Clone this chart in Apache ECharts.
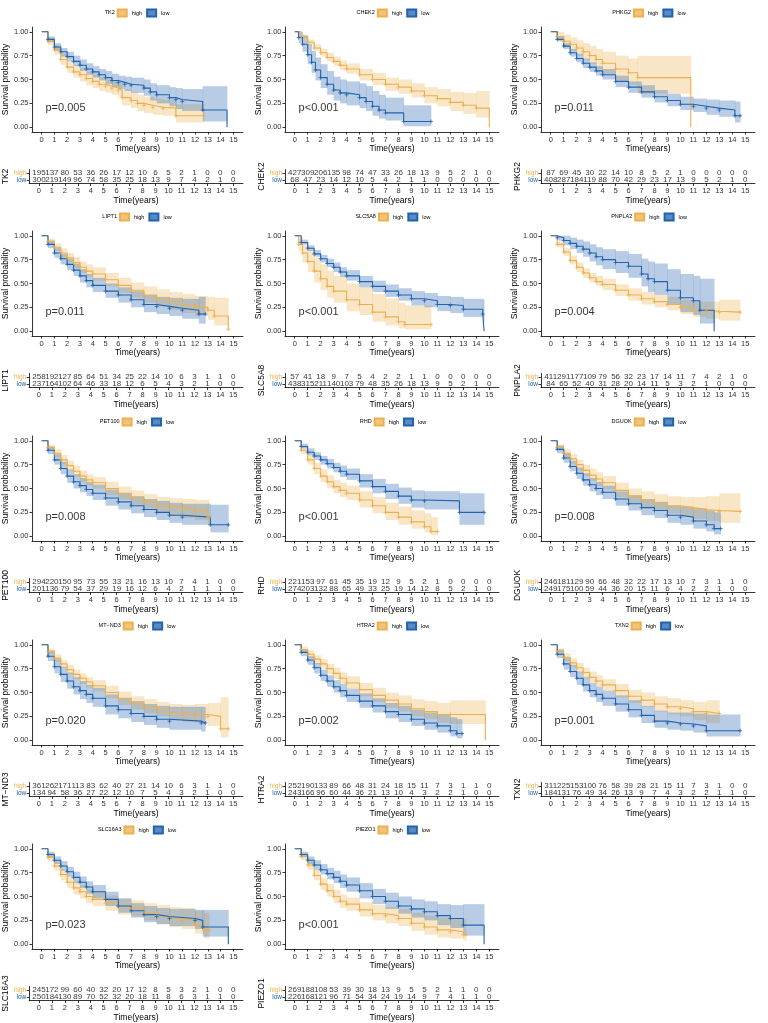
<!DOCTYPE html>
<html><head><meta charset="utf-8">
<script src="https://cdn.jsdelivr.net/npm/echarts@6/dist/echarts.min.js"></script>
<style>html,body{margin:0;padding:0;background:#fff}#c{width:768px;height:1023px}</style>
</head><body><div id="c"></div><script>
const genes = ['TK2','CHEK2','PHKG2','LIPT1','SLC5A8','PNPLA2','PET100','RHD','DGUOK','MT\u2212ND3','HTRA2','TXN2','SLC16A3','PIEZO1'];
const pValues = ['p=0.005','p<0.001','p=0.011','p=0.011','p<0.001','p=0.004','p=0.008','p<0.001','p=0.008','p=0.020','p=0.002','p=0.001','p=0.023','p<0.001'];
const timeTicks = [0,1,2,3,4,5,6,7,8,9,10,11,12,13,14,15];
const survTicks = [0,0.25,0.5,0.75,1];
const groupLabels = ['high','low'];

const riskHigh = [
 [195,137,80,53,36,26,17,12,10,6,5,2,1,0,0,0],
 [427,309,206,135,98,74,47,33,26,18,13,9,5,2,1,0],
 [87,69,45,30,22,14,10,8,5,2,1,0,0,0,0,0],
 [258,192,127,85,64,51,34,25,22,14,10,6,3,1,1,0],
 [57,41,18,9,7,5,4,2,2,1,1,0,0,0,0,0],
 [411,291,177,109,79,56,32,23,17,14,11,7,4,2,1,0],
 [294,220,150,95,73,55,33,21,16,13,10,7,4,1,0,0],
 [221,153,97,61,45,35,19,12,9,5,2,1,0,0,0,0],
 [246,181,129,90,66,48,32,22,17,13,10,7,3,1,1,0],
 [361,262,171,113,83,62,40,27,21,14,10,6,3,1,1,0],
 [252,190,133,89,66,48,31,24,18,15,11,7,3,1,1,0],
 [311,225,153,100,76,58,39,28,21,15,11,7,3,1,0,0],
 [245,172,99,60,40,32,20,17,12,8,5,3,2,1,0,0],
 [269,188,108,53,39,30,18,13,9,5,5,2,1,1,0,0]
];
const riskLow = [
 [300,219,149,96,74,58,35,25,18,13,9,7,4,2,1,0],
 [68,47,23,14,12,10,5,4,2,1,1,0,0,0,0,0],
 [408,287,184,119,88,70,42,29,23,17,13,9,5,2,1,0],
 [237,164,102,64,46,33,18,12,6,5,4,3,2,1,0,0],
 [438,315,211,140,103,79,48,35,26,18,13,9,5,2,1,0],
 [84,65,52,40,31,28,20,14,11,5,3,2,1,0,0,0],
 [201,136,79,54,37,29,19,16,12,6,4,2,1,1,1,0],
 [274,203,132,88,65,49,33,25,19,14,12,8,5,2,1,0],
 [249,175,100,59,44,36,20,15,11,6,4,2,2,1,0,0],
 [134,94,58,36,27,22,12,10,7,5,4,3,2,1,0,0],
 [243,166,96,60,44,36,21,13,10,4,3,2,2,1,0,0],
 [184,131,76,49,34,26,13,9,7,4,3,2,2,1,1,0],
 [250,184,130,89,70,52,32,20,18,11,8,6,3,1,1,0],
 [226,168,121,96,71,54,34,24,19,14,9,7,4,1,1,0]
];

// [time, survival, lower CI, upper CI]
const survHigh = [
 [[0,1,1,1],[0.5,0.90,0.86,0.94],[1,0.81,0.76,0.86],[1.5,0.71,0.65,0.77],[2,0.63,0.57,0.69],[2.5,0.58,0.52,0.65],[3,0.55,0.48,0.62],[3.5,0.51,0.44,0.58],[4,0.48,0.41,0.55],[4.5,0.45,0.38,0.52],[5,0.43,0.36,0.50],[5.5,0.41,0.34,0.49],[6,0.39,0.31,0.47],[6.3,0.31,0.23,0.40],[7,0.28,0.20,0.37],[7.5,0.25,0.17,0.34],[8,0.23,0.15,0.32],[8.7,0.21,0.13,0.30],[9.5,0.20,0.12,0.29],[10.5,0.12,0.05,0.24],[12.7,0.12,0.05,0.24]],
 [[0,1,1,1],[0.5,0.95,0.93,0.97],[1,0.89,0.86,0.92],[1.5,0.83,0.80,0.87],[2,0.78,0.74,0.82],[2.5,0.73,0.69,0.78],[3,0.69,0.64,0.74],[3.5,0.65,0.60,0.70],[4,0.61,0.56,0.67],[5,0.55,0.49,0.61],[6,0.50,0.44,0.57],[7,0.45,0.38,0.52],[8,0.42,0.35,0.50],[9,0.38,0.31,0.46],[10,0.33,0.25,0.42],[11,0.30,0.22,0.40],[12,0.26,0.17,0.37],[13,0.23,0.14,0.36],[14,0.20,0.10,0.38],[15,0,0,0]],
 [[0,1,1,1],[0.5,0.95,0.91,1],[1,0.90,0.84,0.97],[1.5,0.87,0.80,0.94],[2,0.83,0.75,0.91],[2.5,0.79,0.70,0.88],[3,0.75,0.66,0.85],[3.5,0.71,0.61,0.82],[4,0.67,0.56,0.79],[5,0.61,0.49,0.75],[6,0.57,0.44,0.72],[6.7,0.52,0.35,0.75],[10.8,0,0,0]],
 [[0,1,1,1],[0.5,0.94,0.91,0.97],[1,0.88,0.84,0.92],[1.5,0.82,0.77,0.87],[2,0.77,0.72,0.82],[2.5,0.72,0.66,0.78],[3,0.67,0.61,0.73],[3.5,0.63,0.57,0.70],[4,0.60,0.53,0.67],[5,0.54,0.47,0.61],[6,0.48,0.40,0.56],[7,0.43,0.35,0.51],[8,0.38,0.30,0.47],[9,0.34,0.26,0.44],[10,0.31,0.22,0.41],[11,0.28,0.19,0.39],[12,0.25,0.16,0.37],[13,0.22,0.12,0.36],[13.5,0.16,0.06,0.35],[14.6,0.02,0.02,0.02]],
 [[0,1,1,1],[0.3,0.91,0.84,0.99],[0.6,0.82,0.72,0.93],[1,0.73,0.62,0.85],[1.5,0.63,0.51,0.77],[2,0.55,0.43,0.70],[2.5,0.47,0.35,0.63],[3,0.42,0.30,0.58],[4,0.33,0.21,0.50],[5,0.28,0.17,0.46],[6,0.20,0.10,0.39],[7,0.15,0.06,0.34],[8,0.10,0.03,0.30],[8.5,0.07,0.02,0.27],[10.5,0.07,0.02,0.27]],
 [[0,1,1,1],[0.5,0.91,0.88,0.94],[1,0.83,0.79,0.87],[1.5,0.74,0.70,0.79],[2,0.67,0.62,0.72],[2.5,0.61,0.56,0.66],[3,0.56,0.51,0.61],[3.5,0.52,0.47,0.58],[4,0.49,0.43,0.55],[5,0.43,0.37,0.49],[6,0.38,0.32,0.45],[7,0.34,0.28,0.41],[8,0.31,0.25,0.38],[9,0.28,0.22,0.36],[10,0.25,0.18,0.33],[11,0.22,0.15,0.31],[12,0.21,0.13,0.31],[13,0.20,0.11,0.33],[14.6,0.20,0.11,0.33]],
 [[0,1,1,1],[0.5,0.93,0.90,0.96],[1,0.87,0.83,0.91],[1.5,0.80,0.75,0.85],[2,0.74,0.69,0.79],[2.5,0.68,0.62,0.74],[3,0.63,0.57,0.69],[3.5,0.59,0.53,0.65],[4,0.56,0.50,0.62],[5,0.50,0.43,0.57],[6,0.45,0.38,0.52],[7,0.40,0.33,0.48],[8,0.36,0.29,0.44],[9,0.32,0.24,0.41],[10,0.30,0.22,0.40],[11,0.28,0.19,0.39],[12,0.26,0.17,0.38],[13,0.20,0.10,0.38],[13.1,0.20,0.10,0.38]],
 [[0,1,1,1],[0.5,0.90,0.86,0.94],[1,0.80,0.75,0.86],[1.5,0.71,0.65,0.77],[2,0.63,0.57,0.70],[2.5,0.57,0.50,0.64],[3,0.52,0.45,0.59],[3.5,0.48,0.41,0.56],[4,0.45,0.38,0.53],[5,0.38,0.30,0.47],[6,0.32,0.24,0.41],[7,0.25,0.17,0.35],[8,0.20,0.12,0.31],[9,0.15,0.08,0.27],[10,0.10,0.04,0.24],[10.5,0.05,0.01,0.20],[11,0.05,0.01,0.20]],
 [[0,1,1,1],[0.5,0.93,0.90,0.96],[1,0.87,0.83,0.91],[1.5,0.81,0.76,0.86],[2,0.75,0.69,0.80],[2.5,0.69,0.63,0.75],[3,0.64,0.58,0.71],[3.5,0.60,0.53,0.67],[4,0.56,0.49,0.63],[5,0.48,0.41,0.56],[6,0.42,0.34,0.50],[7,0.38,0.30,0.47],[8,0.35,0.27,0.44],[9,0.32,0.24,0.42],[10,0.30,0.21,0.41],[11,0.28,0.18,0.41],[12,0.27,0.16,0.42],[13,0.26,0.14,0.45],[14.6,0.26,0.14,0.45]],
 [[0,1,1,1],[0.5,0.93,0.90,0.96],[1,0.86,0.82,0.90],[1.5,0.80,0.76,0.84],[2,0.74,0.69,0.79],[2.5,0.69,0.64,0.74],[3,0.65,0.59,0.70],[3.5,0.61,0.55,0.66],[4,0.57,0.51,0.63],[5,0.50,0.44,0.57],[6,0.44,0.37,0.51],[7,0.39,0.32,0.46],[8,0.35,0.28,0.43],[9,0.32,0.25,0.40],[10,0.29,0.21,0.38],[11,0.27,0.19,0.37],[12,0.27,0.18,0.38],[13,0.25,0.15,0.39],[14,0.12,0.03,0.45],[14.6,0.12,0.03,0.45]],
 [[0,1,1,1],[0.5,0.95,0.92,0.98],[1,0.90,0.86,0.94],[1.5,0.85,0.80,0.89],[2,0.80,0.75,0.85],[2.5,0.75,0.69,0.80],[3,0.70,0.64,0.76],[3.5,0.65,0.59,0.71],[4,0.60,0.54,0.67],[5,0.53,0.46,0.60],[6,0.47,0.40,0.55],[7,0.42,0.34,0.50],[8,0.38,0.30,0.47],[9,0.33,0.25,0.43],[10,0.30,0.22,0.41],[11,0.27,0.18,0.39],[12,0.27,0.17,0.42],[14.7,0,0,0]],
 [[0,1,1,1],[0.5,0.93,0.90,0.96],[1,0.87,0.83,0.91],[1.5,0.81,0.77,0.86],[2,0.76,0.71,0.81],[2.5,0.71,0.65,0.76],[3,0.66,0.60,0.72],[3.5,0.62,0.56,0.68],[4,0.58,0.52,0.64],[5,0.52,0.45,0.59],[6,0.46,0.39,0.53],[7,0.42,0.35,0.50],[8,0.38,0.30,0.46],[9,0.35,0.27,0.44],[10,0.33,0.25,0.42],[11,0.30,0.21,0.40],[12,0.28,0.18,0.42],[13,0.28,0.18,0.42]],
 [[0,1,1,1],[0.5,0.91,0.87,0.95],[1,0.82,0.77,0.87],[1.5,0.73,0.67,0.79],[2,0.65,0.59,0.72],[2.5,0.59,0.52,0.66],[3,0.55,0.48,0.62],[3.5,0.50,0.43,0.58],[4,0.47,0.40,0.55],[5,0.43,0.35,0.51],[6,0.39,0.31,0.48],[7,0.37,0.29,0.46],[8,0.33,0.25,0.43],[9,0.30,0.21,0.41],[10,0.27,0.18,0.39],[11,0.25,0.16,0.38],[12,0.20,0.11,0.35],[12.7,0.15,0.06,0.33],[13.1,0.15,0.06,0.33]],
 [[0,1,1,1],[0.5,0.92,0.88,0.95],[1,0.83,0.78,0.87],[1.5,0.72,0.67,0.78],[2,0.63,0.57,0.69],[2.5,0.56,0.50,0.63],[3,0.50,0.43,0.57],[3.5,0.45,0.38,0.52],[4,0.42,0.35,0.49],[5,0.36,0.29,0.44],[6,0.32,0.25,0.41],[7,0.30,0.22,0.39],[8,0.27,0.19,0.37],[9,0.22,0.14,0.33],[10,0.18,0.10,0.30],[11,0.15,0.07,0.28],[12,0.13,0.06,0.27],[13,0.10,0.04,0.26],[13.2,0.10,0.04,0.26]]
];
const survLow = [
 [[0,1,1,1],[0.5,0.92,0.89,0.95],[1,0.84,0.80,0.88],[1.5,0.79,0.74,0.83],[2,0.74,0.69,0.79],[2.5,0.69,0.64,0.75],[3,0.65,0.59,0.71],[3.5,0.61,0.55,0.67],[4,0.58,0.52,0.64],[4.5,0.55,0.49,0.61],[5,0.52,0.45,0.59],[5.5,0.49,0.42,0.56],[6,0.47,0.40,0.54],[6.5,0.45,0.38,0.53],[7,0.44,0.36,0.52],[8,0.41,0.33,0.50],[8.5,0.37,0.28,0.46],[9,0.34,0.25,0.44],[10,0.31,0.22,0.42],[10.5,0.29,0.19,0.41],[11,0.27,0.17,0.40],[12.6,0.18,0.06,0.43],[14.5,0,0,0]],
 [[0,1,1,1],[0.3,0.94,0.88,1],[0.6,0.87,0.79,0.96],[1,0.76,0.66,0.87],[1.3,0.68,0.57,0.80],[1.6,0.60,0.49,0.73],[2,0.52,0.41,0.66],[2.5,0.45,0.34,0.59],[3,0.39,0.28,0.53],[3.5,0.36,0.25,0.50],[4,0.34,0.23,0.48],[5,0.31,0.20,0.46],[5.5,0.27,0.17,0.43],[6,0.22,0.12,0.38],[6.5,0.18,0.09,0.34],[7,0.15,0.07,0.31],[8.4,0.06,0.01,0.23],[10.5,0.06,0.01,0.23]],
 [[0,1,1,1],[0.5,0.92,0.90,0.95],[1,0.85,0.82,0.88],[1.5,0.78,0.74,0.82],[2,0.72,0.68,0.77],[2.5,0.67,0.62,0.72],[3,0.63,0.58,0.68],[3.5,0.59,0.54,0.64],[4,0.55,0.50,0.61],[5,0.48,0.42,0.54],[6,0.42,0.36,0.48],[7,0.37,0.31,0.44],[8,0.32,0.26,0.39],[9,0.28,0.22,0.35],[10,0.24,0.18,0.32],[11,0.22,0.16,0.30],[12,0.20,0.13,0.29],[13,0.18,0.11,0.28],[14.2,0.12,0.05,0.27],[14.6,0.12,0.05,0.27]],
 [[0,1,1,1],[0.5,0.91,0.87,0.95],[1,0.82,0.77,0.87],[1.5,0.76,0.70,0.81],[2,0.70,0.64,0.76],[2.5,0.64,0.58,0.71],[3,0.58,0.51,0.65],[3.5,0.53,0.46,0.60],[4,0.48,0.41,0.56],[5,0.42,0.35,0.50],[6,0.38,0.30,0.46],[7,0.33,0.25,0.42],[8,0.28,0.20,0.38],[9,0.26,0.18,0.36],[10,0.24,0.16,0.35],[11,0.22,0.13,0.34],[12.3,0.18,0.08,0.36],[12.8,0.18,0.08,0.36]],
 [[0,1,1,1],[0.5,0.93,0.91,0.96],[1,0.87,0.84,0.90],[1.5,0.81,0.78,0.85],[2,0.76,0.72,0.80],[2.5,0.71,0.67,0.76],[3,0.67,0.62,0.72],[3.5,0.62,0.57,0.67],[4,0.58,0.53,0.64],[5,0.52,0.46,0.58],[6,0.47,0.41,0.53],[7,0.42,0.36,0.49],[8,0.38,0.32,0.45],[9,0.34,0.27,0.42],[10,0.32,0.25,0.40],[11,0.28,0.21,0.37],[12,0.27,0.19,0.36],[13,0.23,0.15,0.34],[14.5,0.18,0.09,0.33],[14.6,0,0,0]],
 [[0,1,1,1],[0.5,0.98,0.95,1],[1,0.95,0.90,1],[1.5,0.92,0.86,0.98],[2,0.89,0.82,0.96],[2.5,0.86,0.78,0.94],[3,0.82,0.73,0.91],[3.5,0.78,0.69,0.88],[4,0.75,0.65,0.86],[5,0.72,0.61,0.84],[6,0.68,0.56,0.81],[7,0.60,0.47,0.76],[7.5,0.55,0.41,0.73],[8,0.52,0.38,0.71],[9,0.43,0.28,0.65],[10,0.35,0.20,0.60],[11,0.32,0.17,0.58],[11.5,0.22,0.08,0.55],[12.6,0,0,0]],
 [[0,1,1,1],[0.5,0.90,0.86,0.94],[1,0.80,0.75,0.86],[1.5,0.71,0.65,0.78],[2,0.63,0.56,0.70],[2.5,0.57,0.50,0.65],[3,0.53,0.46,0.61],[3.5,0.49,0.42,0.57],[4,0.45,0.38,0.54],[5,0.40,0.32,0.49],[6,0.36,0.28,0.45],[7,0.32,0.24,0.42],[8,0.28,0.20,0.39],[9,0.25,0.17,0.37],[10,0.22,0.14,0.35],[11,0.20,0.12,0.34],[13.2,0.12,0.04,0.33],[14.6,0.12,0.04,0.33]],
 [[0,1,1,1],[0.5,0.94,0.92,0.97],[1,0.88,0.85,0.92],[1.5,0.84,0.80,0.88],[2,0.80,0.75,0.84],[2.5,0.76,0.71,0.81],[3,0.72,0.67,0.77],[3.5,0.68,0.62,0.74],[4,0.65,0.59,0.71],[5,0.58,0.51,0.65],[6,0.52,0.45,0.60],[7,0.47,0.39,0.55],[8,0.42,0.34,0.51],[9,0.38,0.30,0.48],[10,0.37,0.28,0.47],[12.7,0.25,0.12,0.45],[14.6,0.25,0.12,0.45]],
 [[0,1,1,1],[0.5,0.91,0.87,0.95],[1,0.82,0.77,0.87],[1.5,0.73,0.68,0.79],[2,0.66,0.60,0.72],[2.5,0.59,0.53,0.66],[3,0.54,0.47,0.61],[3.5,0.50,0.43,0.57],[4,0.46,0.39,0.53],[5,0.39,0.32,0.47],[6,0.34,0.27,0.43],[7,0.30,0.22,0.39],[8,0.27,0.19,0.36],[9,0.22,0.14,0.32],[10,0.20,0.12,0.31],[11,0.16,0.08,0.29],[12,0.12,0.05,0.27],[12.6,0.08,0.02,0.25],[13.1,0.08,0.02,0.25]],
 [[0,1,1,1],[0.5,0.88,0.83,0.94],[1,0.77,0.70,0.85],[1.5,0.69,0.61,0.77],[2,0.62,0.54,0.71],[2.5,0.56,0.48,0.66],[3,0.52,0.43,0.62],[3.5,0.48,0.39,0.58],[4,0.44,0.35,0.55],[5,0.36,0.27,0.48],[6,0.32,0.23,0.44],[7,0.28,0.19,0.41],[8,0.25,0.16,0.38],[9,0.22,0.13,0.36],[10,0.20,0.11,0.35],[12.5,0.18,0.09,0.35],[12.8,0.18,0.09,0.35]],
 [[0,1,1,1],[0.5,0.92,0.88,0.95],[1,0.84,0.79,0.88],[1.5,0.76,0.70,0.81],[2,0.68,0.62,0.74],[2.5,0.62,0.56,0.68],[3,0.56,0.50,0.63],[3.5,0.52,0.45,0.59],[4,0.47,0.40,0.54],[5,0.41,0.34,0.49],[6,0.36,0.29,0.44],[7,0.30,0.23,0.39],[8,0.27,0.19,0.36],[9,0.22,0.15,0.32],[10,0.18,0.11,0.29],[11,0.15,0.08,0.27],[12,0.10,0.04,0.24],[12.5,0.07,0.02,0.22],[12.9,0.07,0.02,0.22]],
 [[0,1,1,1],[0.5,0.90,0.86,0.95],[1,0.80,0.74,0.86],[1.5,0.72,0.66,0.79],[2,0.65,0.58,0.72],[2.5,0.58,0.51,0.66],[3,0.52,0.45,0.60],[3.5,0.48,0.40,0.56],[4,0.44,0.36,0.52],[5,0.38,0.30,0.47],[6,0.32,0.24,0.42],[7,0.26,0.18,0.36],[8,0.20,0.13,0.31],[9,0.18,0.11,0.29],[10,0.17,0.10,0.29],[11,0.15,0.08,0.28],[12,0.10,0.04,0.27],[14.6,0.10,0.04,0.27]],
 [[0,1,1,1],[0.5,0.94,0.91,0.97],[1,0.88,0.84,0.92],[1.5,0.82,0.77,0.87],[2,0.76,0.71,0.81],[2.5,0.70,0.64,0.76],[3,0.65,0.59,0.71],[3.5,0.60,0.53,0.66],[4,0.55,0.48,0.62],[5,0.47,0.40,0.55],[6,0.40,0.33,0.48],[7,0.35,0.28,0.43],[8,0.31,0.23,0.40],[9,0.29,0.21,0.38],[10,0.27,0.19,0.37],[12,0.25,0.16,0.36],[12.6,0.18,0.08,0.36],[14.6,0,0,0]],
 [[0,1,1,1],[0.5,0.94,0.91,0.97],[1,0.88,0.84,0.92],[1.5,0.83,0.78,0.88],[2,0.78,0.73,0.84],[2.5,0.74,0.68,0.80],[3,0.70,0.64,0.77],[3.5,0.66,0.59,0.73],[4,0.62,0.55,0.70],[5,0.56,0.48,0.64],[6,0.50,0.42,0.58],[7,0.45,0.37,0.54],[8,0.40,0.32,0.50],[9,0.37,0.28,0.47],[10,0.34,0.25,0.45],[11,0.30,0.20,0.42],[12,0.27,0.17,0.41],[13,0.20,0.09,0.42],[14.6,0,0,0]]
];

const HC = '#EDB04E', LC = '#2163AE';
const HB = 'rgba(237,176,78,0.32)', LB = 'rgba(33,99,174,0.32)';
const FONT = '"Liberation Sans", Arial, sans-serif';
const chart = echarts.init(document.getElementById('c'));
const ctx = document.createElement('canvas').getContext('2d');
function tw(t, size){ ctx.font = size + 'px "Liberation Sans", Arial'; return ctx.measureText(t).width; }

const grids=[], xAxes=[], yAxes=[], series=[], legends=[], graphics=[];
const plus = 'path://M0,5L10,5M5,0L5,10';

function axisBase(gi, min, max, vals){
  return {gridIndex:gi, type:'value', min:min, max:max,
    axisLine:{show:true,onZero:false,lineStyle:{color:'#000',width:0.8}},
    axisTick:{show:true,customValues:vals,length:2.5,lineStyle:{color:'#000',width:0.8}},
    axisLabel:{show:true,customValues:vals,fontSize:7.5,color:'#333',margin:3.5,fontFamily:FONT},
    splitLine:{show:false}, nameTextStyle:{fontSize:8.5,color:'#000',fontFamily:FONT}};
}

// confidence band: one step rectangle per interval [t_i, t_{i+1}] between lower and upper CI
function bandRender(params, api){
  const t0 = api.value(0), t1 = api.value(1), lo = api.value(2), hi = api.value(3);
  const a = api.coord([t0, hi]), b = api.coord([t1, lo]);
  return {type:'rect', shape:{x:a[0], y:a[1], width:Math.max(0,b[0]-a[0]+0.4), height:Math.max(0,b[1]-a[1])},
    style:{fill:api.visual('color')}};
}

genes.forEach((g,i)=>{
  const col=i%3, row=Math.floor(i/3);
  const L=col*256, T=Math.round(row*204.3);
  const gi = grids.length;
  grids.push({left:L+29, top:T+27, width:214, height:105});
  xAxes.push(Object.assign(axisBase(gi,-0.75,15.75,timeTicks),{name:'Time(years)',nameLocation:'middle',nameGap:10}));
  const ya = axisBase(gi,-0.05,1.05,survTicks);
  ya.axisLabel.formatter = v=>v.toFixed(2);
  Object.assign(ya,{name:'Survival probability',nameLocation:'middle',nameGap:18});
  yAxes.push(ya);

  [[survHigh[i],HB],[survLow[i],LB]].forEach(([d,b])=>{
    const segs = [];
    for(let j=0;j<d.length-1;j++) segs.push([d[j][0], d[j+1][0], d[j][2], d[j][3]]);
    series.push({type:'custom',xAxisIndex:gi,yAxisIndex:gi,silent:true,clip:true,
      itemStyle:{color:b},renderItem:bandRender,data:segs,z:1,animation:false});
  });
  [[survHigh[i],HC,'high'],[survLow[i],LC,'low']].forEach(([d,c,nm])=>{
    series.push({type:'line',name:nm,xAxisIndex:gi,yAxisIndex:gi,step:'end',
      symbol:plus,symbolSize:4,showSymbol:true,
      itemStyle:{color:c,borderColor:c,borderWidth:0.8},
      lineStyle:{color:c,width:1.1},
      data:d.map((p,j)=>({value:[p[0],p[1]],symbol:(j===0||p[1]===0)?'none':plus})),z:3,animation:false});
  });
  series.push({type:'scatter',xAxisIndex:gi,yAxisIndex:gi,symbolSize:0,silent:true,
    data:[[0.3,0.2]],label:{show:true,position:'right',distance:0,formatter:pValues[i],fontSize:11,color:'#000',fontFamily:FONT},z:5});

  const nameW = tw(g,5.5), itemsW = 9+5+tw('high',5.5)+4+9+5+tw('low',5.5);
  const start = L+136-(nameW+2+itemsW)/2;
  graphics.push({type:'text',left:start,top:T+9,style:{text:g,fontSize:5.5,fill:'#000',fontFamily:FONT}});
  legends.push({left:start+nameW+2,top:T+8.5,itemWidth:9,itemHeight:7,itemGap:4,padding:0,
    textStyle:{fontSize:5.5,color:'#000',fontFamily:FONT},
    data:[{name:'high',icon:'rect',itemStyle:{color:'rgba(237,176,78,0.75)'}},{name:'low',icon:'rect',itemStyle:{color:'rgba(33,99,174,0.75)'}}]});

  const ri = grids.length;
  grids.push({left:L+29, top:T+169.5, width:214, height:14});
  xAxes.push(Object.assign(axisBase(ri,-0.75,15.75,timeTicks),{name:'Time(years)',nameLocation:'middle',nameGap:9}));
  const ry = axisBase(ri,0,2,[0.5,1.5]);
  ry.axisLabel.formatter = v=> v>1 ? '{h|'+groupLabels[0]+'}' : '{l|'+groupLabels[1]+'}';
  ry.axisLabel.rich = {h:{color:HC,fontSize:6.5,fontFamily:FONT},l:{color:LC,fontSize:6.5,fontFamily:FONT}};
  ry.axisLabel.margin = 3;
  Object.assign(ry,{name:g,nameLocation:'middle',nameGap:18,nameRotate:90});
  yAxes.push(ry);
  series.push({type:'scatter',xAxisIndex:ri,yAxisIndex:ri,symbolSize:0,silent:true,
    data:riskHigh[i].map((v,k)=>[timeTicks[k],1.5,v]),
    label:{show:true,position:'inside',formatter:p=>String(p.value[2]),fontSize:8,color:'#000',fontFamily:FONT}});
  series.push({type:'scatter',xAxisIndex:ri,yAxisIndex:ri,symbolSize:0,silent:true,
    data:riskLow[i].map((v,k)=>[timeTicks[k],0.5,v]),
    label:{show:true,position:'inside',formatter:p=>String(p.value[2]),fontSize:8,color:'#000',fontFamily:FONT}});
});

chart.setOption({animation:false,backgroundColor:'#fff',grid:grids,xAxis:xAxes,yAxis:yAxes,series:series,legend:legends,graphic:graphics});
</script></body></html>
